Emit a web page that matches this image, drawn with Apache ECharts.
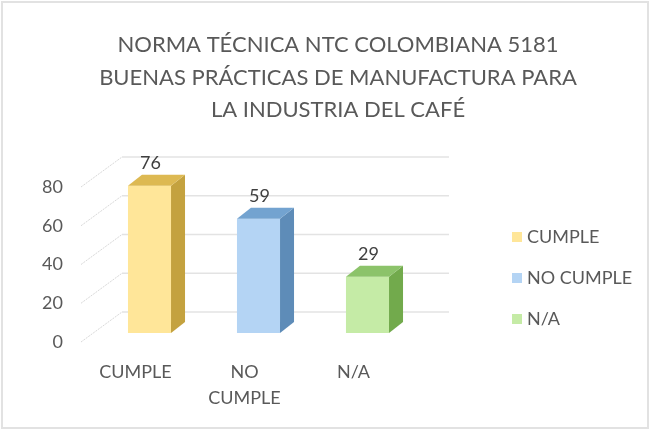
<!DOCTYPE html>
<html><head><meta charset="utf-8">
<script src="https://cdn.jsdelivr.net/npm/echarts@6/dist/echarts.min.js"></script>
<style>html,body{margin:0;padding:0;background:#fff}#c{width:651px;height:431px}</style>
</head><body><div id="c"></div>
<script>
const categories = ['CUMPLE', 'NO CUMPLE', 'N/A'];
const categoryLabels = ['CUMPLE', 'NO\nCUMPLE', 'N/A'];
const values = [76, 59, 29];
const yTicks = [0, 20, 40, 60, 80];
const titleText = 'NORMA TÉCNICA NTC COLOMBIANA 5181\nBUENAS PRÁCTICAS DE MANUFACTURA PARA\nLA INDUSTRIA DEL CAFÉ';

const frontColors = ['#FFE699', '#B4D4F4', '#C5EBA6'];
const sideColors = ['#C4A23F', '#5E8CB8', '#72AA4C'];
const topColors = ['#DDB952', '#73A3D0', '#8CC36A'];

const FONT = 'Lato';
const WALL_DX = 41, WALL_DY = -30;     // depth of floor/back wall
const BAR_DX = 14, BAR_DY = -9;        // bar front offset from front plane
const SIDE_DX = 14, SIDE_DY = -11;     // bar depth
const BAR_W = 0.395;

const chart = echarts.init(document.getElementById('c'), null, {renderer: 'canvas'});

function wallItem(params, api) {
  const cs = params.coordSys;
  const y = api.coord([0, api.value(0)])[1];
  const x0 = cs.x;
  const bx = x0 + WALL_DX, by = y + WALL_DY;
  return {
    type: 'group',
    children: [
      {type: 'line', shape: {x1: x0, y1: y, x2: bx, y2: by},
       style: {stroke: '#D9D9D9', lineWidth: 1, lineDash: [2, 1]}},
      {type: 'line', shape: {x1: bx, y1: by, x2: bx + cs.width, y2: by},
       style: {stroke: '#E3E3E3', lineWidth: 1.3}}
    ]
  };
}

function barItem(ci) {
  return function (params, api) {
    const idx = api.value(0);
    const val = api.value(1);
    const top = api.coord([idx, val]);
    const base = api.coord([idx, 0]);
    const band = api.size([1, 0])[0];
    const w = band * BAR_W;
    const xl = top[0] - w / 2 + BAR_DX, xr = xl + w;
    const yt = top[1] + BAR_DY, yb = base[1] + BAR_DY;
    return {
      type: 'group',
      children: [
        {type: 'rect', shape: {x: xl, y: yt, width: w, height: yb - yt},
         style: {fill: frontColors[ci]}},
        {type: 'polygon', shape: {points: [[xr, yt], [xr + SIDE_DX, yt + SIDE_DY], [xr + SIDE_DX, yb + SIDE_DY], [xr, yb]]},
         style: {fill: sideColors[ci]}},
        {type: 'polygon', shape: {points: [[xl, yt], [xl + SIDE_DX, yt + SIDE_DY], [xr + SIDE_DX, yt + SIDE_DY], [xr, yt]]},
         style: {fill: topColors[ci]}},
        {type: 'text', x: (xl + xr) / 2 + 1, y: yt + SIDE_DY - 12,
         style: {text: String(val), fill: '#404040', font: '18px ' + FONT, align: 'center', verticalAlign: 'middle'}}
      ]
    };
  };
}

const series = [{
  type: 'custom',
  name: '__wall',
  data: yTicks.map(t => [t]),
  encode: {y: 0},
  renderItem: wallItem,
  silent: true,
  z: 1
}];
categories.forEach((c, i) => {
  series.push({
    type: 'custom',
    name: c,
    data: [[i, values[i]]],
    encode: {x: 0, y: 1},
    itemStyle: {color: frontColors[i]},
    renderItem: barItem(i),
    z: 2
  });
});

chart.setOption({
  animation: false,
  backgroundColor: '#fff',
  title: {
    text: titleText,
    left: 333, top: 24, textAlign: 'center',
    textStyle: {fontFamily: FONT, fontSize: 22, fontWeight: 'normal', color: '#595959', lineHeight: 32.5}
  },
  legend: {
    data: categories,
    orient: 'vertical',
    left: 507, top: 222,
    icon: 'rect', itemWidth: 10, itemHeight: 10, itemGap: 21,
    textStyle: {fontFamily: FONT, fontSize: 18, color: '#595959', lineHeight: 20}
  },
  grid: {left: 81, right: 243, top: 187, bottom: 89, containLabel: false},
  xAxis: {
    type: 'category',
    data: categories,
    axisLine: {show: false}, axisTick: {show: false}, splitLine: {show: false},
    axisLabel: {
      margin: 17, interval: 0,
      fontFamily: FONT, fontSize: 18, color: '#595959', lineHeight: 26,
      formatter: (v, i) => categoryLabels[i]
    }
  },
  yAxis: {
    type: 'value', min: 0, max: 80, interval: 20,
    axisLine: {show: false}, axisTick: {show: false}, splitLine: {show: false},
    axisLabel: {margin: 18, fontFamily: FONT, fontSize: 18, color: '#595959'}
  },
  graphic: [{
    type: 'rect', shape: {x: 2, y: 2, width: 646, height: 426},
    style: {fill: 'none', stroke: '#E2E2E2', lineWidth: 2}, silent: true, z: -1
  }],
  series: series
});
</script></body></html>
